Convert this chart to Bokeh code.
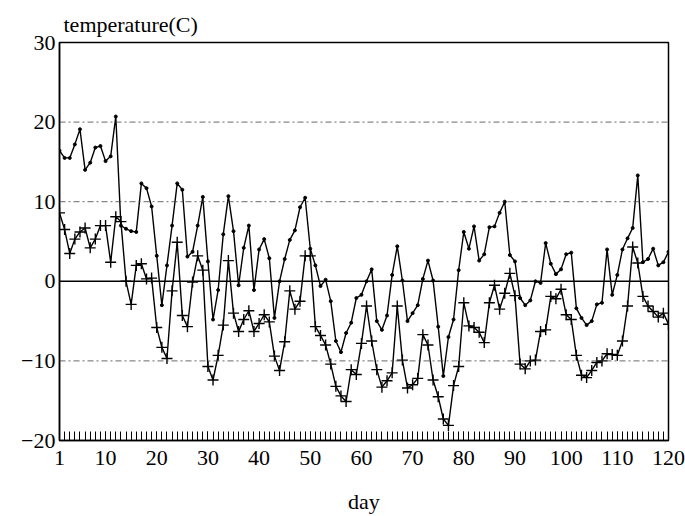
from bokeh.plotting import figure
from bokeh.models import Range1d, FixedTicker, Span, ColumnDataSource
from bokeh.embed import file_html
from bokeh.resources import INLINE

days = list(range(1, 121))

upper = [16.4, 15.5, 15.5, 17.2, 19.1, 14.0, 14.9, 16.8, 17.0, 15.1,
         15.7, 20.7, 7.0, 6.6, 6.3, 6.2, 12.3, 11.7, 9.4, 3.2,
         -3.0, 2.0, 7.0, 12.3, 11.5, 3.1, 3.7, 7.0, 10.6, 2.5,
         -4.8, -1.1, 5.9, 10.7, 6.3, -0.5, 4.2, 7.0, -1.1, 4.0,
         5.3, 2.9, -4.6, 0.0, 2.8, 5.2, 6.4, 9.3, 10.5, 4.1,
         2.0, -0.6, 0.2, -2.5, -7.5, -8.9, -6.5, -5.2, -2.1, -1.7,
         0.0, 1.5, -5.0, -6.1, -4.3, 0.8, 4.4, 0.1, -5.0, -4.0,
         -3.0, 0.3, 2.6, 0.1, -5.7, -11.9, -7.0, -4.8, 1.4, 6.2,
         4.1, 6.9, 2.6, 3.4, 6.8, 6.9, 8.6, 10.0, 3.3, 2.5,
         -2.1, -3.0, -2.4, 0.0, -0.2, 4.8, 2.2, 0.9, 1.5, 3.4,
         3.6, -3.4, -4.6, -5.5, -5.0, -2.9, -2.7, 4.0, -1.7, 0.8,
         4.0, 5.4, 6.7, 13.3, 2.4, 2.8, 4.1, 2.0, 2.4, 3.7]

lower = [8.6, 6.5, 3.5, 5.3, 6.2, 6.7, 4.2, 5.3, 7.0, 7.0,
         2.4, 8.1, 7.5, 0.0, -2.9, 2.0, 2.2, 0.3, 0.4, -5.8,
         -8.3, -9.7, -1.2, 4.9, -4.3, -5.7, -0.1, 3.2, 1.4, -10.7,
         -12.4, -9.3, -5.5, 2.6, -4.0, -6.3, -4.8, -3.7, -6.3, -5.3,
         -4.2, -5.1, -9.4, -11.2, -7.6, -1.2, -3.5, -2.5, 3.2, 3.2,
         -5.7, -6.8, -8.0, -10.4, -13.2, -14.4, -15.1, -11.1, -11.7, -7.8,
         -3.1, -7.5, -11.1, -13.3, -12.5, -11.5, -3.1, -9.9, -13.4, -13.0,
         -12.2, -6.7, -8.0, -12.4, -14.5, -17.3, -18.1, -13.1, -10.7, -2.7,
         -5.6, -5.8, -6.4, -7.7, -2.7, -0.5, -3.5, -1.5, 1.0, -1.8,
         -10.4, -11.0, -10.0, -9.9, -6.3, -6.1, -1.9, -2.2, -1.0, -4.2,
         -4.8, -9.3, -11.8, -12.1, -11.2, -10.2, -10.0, -9.1, -9.2, -9.3,
         -7.5, -3.1, 4.3, 2.3, -1.9, -3.1, -3.8, -4.5, -4.0, -5.4]

x_ticks = [1, 10, 20, 30, 40, 50, 60, 70, 80, 90, 100, 110, 120]
y_ticks = [-20, -10, 0, 10, 20, 30]
y_tick_labels = {-20: "\u221220", -10: "\u221210", 0: "0", 10: "10", 20: "20", 30: "30"}
grid_values = [20, 10, -10]

FONT = "Liberation Serif"

src = ColumnDataSource(dict(day=days, upper=upper, lower=lower))

p = figure(width=685, height=516, x_range=Range1d(1, 120), y_range=Range1d(-20, 30),
           output_backend="svg", toolbar_location=None,
           title="temperature(C)",
           min_border_left=59, min_border_right=17, min_border_top=42, min_border_bottom=10)
p.background_fill_color = "white"
p.border_fill_color = "white"
p.xgrid.visible = False
p.ygrid.visible = False
p.outline_line_color = "black"
p.outline_line_width = 1.5

p.title.text_font = FONT
p.title.text_font_size = "22px"
p.title.text_font_style = "normal"
p.title.text_color = "black"
p.title.align = "left"
p.title.offset = 4
p.title.vertical_align = "middle"

xa = p.xaxis[0]
xa.ticker = FixedTicker(ticks=x_ticks, minor_ticks=days)
xa.major_tick_in = 9
xa.major_tick_out = 0
xa.minor_tick_in = 9
xa.minor_tick_out = 0
xa.major_tick_line_color = "black"
xa.minor_tick_line_color = "black"
xa.axis_line_color = "black"
xa.axis_line_width = 1.5
xa.major_label_standoff = 10
xa.major_label_text_font = FONT
xa.major_label_text_font_size = "22px"
xa.major_label_text_color = "black"
xa.axis_label = "day"
xa.axis_label_text_font = FONT
xa.axis_label_text_font_size = "22px"
xa.axis_label_text_font_style = "normal"
xa.axis_label_text_color = "black"
xa.axis_label_standoff = 21

ya = p.yaxis[0]
ya.ticker = FixedTicker(ticks=y_ticks, minor_ticks=[])
ya.major_tick_in = 0
ya.major_tick_out = 0
ya.axis_line_color = "black"
ya.axis_line_width = 1.5
ya.major_label_standoff = 4
ya.major_label_overrides = y_tick_labels
ya.major_label_text_font = FONT
ya.major_label_text_font_size = "22px"
ya.major_label_text_color = "black"

for g in grid_values:
    p.add_layout(Span(location=g, dimension="width", line_color="#444444",
                      line_width=1, line_dash="6 3 2 3", line_alpha=0.8))
p.add_layout(Span(location=0, dimension="width", line_color="black", line_width=1.5))

p.line("day", "upper", source=src, line_color="black", line_width=1.4)
p.scatter("day", "upper", source=src, marker="circle", size=3, color="black")
p.line("day", "lower", source=src, line_color="black", line_width=1.4)
p.scatter("day", "lower", source=src, marker="cross", size=11, line_color="black", line_width=1.4)

open("out.html", "w").write(file_html(p, INLINE))
